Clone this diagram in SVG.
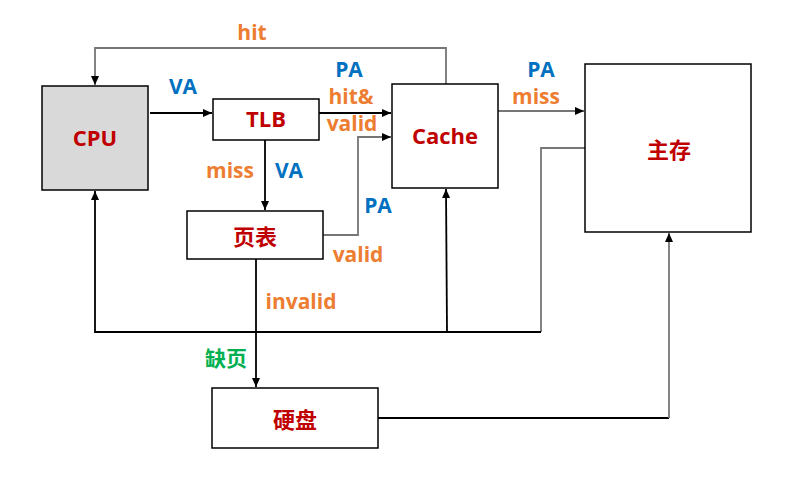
<svg xmlns="http://www.w3.org/2000/svg" width="797" height="501" viewBox="0 0 797 501">
<defs>
<marker id="arr" markerWidth="10" markerHeight="8" refX="9" refY="4" orient="auto" markerUnits="userSpaceOnUse"><path d="M0,0 L9,4 L0,8 Z" fill="#000"/></marker>
<style>
.box{stroke:#000;stroke-width:1.5;fill:#fff}
.cpu{fill:#d9d9d9}
.nl{font-family:"Open Sans","Noto Sans CJK SC",sans-serif;font-weight:bold;font-size:22px;fill:#c00000;text-anchor:middle}
.cj{font-family:"Noto Sans CJK SC",sans-serif;font-size:22px}
.lb{font-family:"Open Sans","Noto Sans CJK SC",sans-serif;font-weight:bold;font-size:21px;text-anchor:middle}
.o{fill:#ed7d31}.b{fill:#0070c0}.g{fill:#00b050}
.c{fill:none;stroke-width:1.8}
.k{stroke:#000}.gr{stroke:#767676}
</style>
</defs>
<rect width="797" height="501" fill="#fff"/>
<g id="connectors">
<path class="c gr" d="M446,84 V48 H95 V85" marker-end="url(#arr)"/>
<path class="c k" d="M150,113 H212" marker-end="url(#arr)"/>
<path class="c k" d="M319,113 H391" marker-end="url(#arr)"/>
<path class="c gr" d="M323,235 H358 V137 H391" marker-end="url(#arr)"/>
<path class="c k" d="M265,140 V210" marker-end="url(#arr)"/>
<path class="c gr" d="M498,111 H584" marker-end="url(#arr)"/>
<path class="c gr" d="M585,148 H541 V332"/>
<path class="c k" d="M541,332 H95 V191" marker-end="url(#arr)"/>
<path class="c k" d="M447,332 L446,189" marker-end="url(#arr)"/>
<path class="c k" d="M256,259 V387" marker-end="url(#arr)"/>
<path class="c k" d="M378,418 H669"/>
<path class="c gr" d="M669,418 V233" marker-end="url(#arr)"/>
</g>
<g id="cpu"><rect class="box cpu" x="42" y="86" width="106" height="104"/><text class="nl" x="95" y="146">CPU</text></g>
<g id="tlb"><rect class="box" x="213" y="99" width="106" height="41"/><text class="nl" x="266" y="127">TLB</text></g>
<g id="cache"><rect class="box" x="392" y="84" width="106" height="104"/><text class="nl" x="445" y="144">Cache</text></g>
<g id="mainmem"><rect class="box" x="585" y="64" width="166" height="168"/><text class="nl cj" x="669" y="158">主存</text></g>
<g id="pagetable"><rect class="box" x="187" y="211" width="136" height="48"/><text class="nl cj" x="255" y="245">页表</text></g>
<g id="disk"><rect class="box" x="212" y="388" width="166" height="60"/><text class="nl cj" x="295" y="428">硬盘</text></g>
<g id="labels">
<text class="lb o" x="252" y="40">hit</text>
<text class="lb b" x="183" y="94">VA</text>
<text class="lb b" x="349" y="77">PA</text>
<text class="lb o" x="351" y="104">hit&amp;</text>
<text class="lb o" x="352" y="131">valid</text>
<text class="lb o" x="230" y="178">miss</text>
<text class="lb b" x="289" y="178">VA</text>
<text class="lb b" x="541" y="77">PA</text>
<text class="lb o" x="536" y="104">miss</text>
<text class="lb b" x="378" y="213">PA</text>
<text class="lb o" x="358" y="262">valid</text>
<text class="lb o" x="301" y="309">invalid</text>
<text class="lb g cj" x="226" y="366">缺页</text>
</g>
</svg>
